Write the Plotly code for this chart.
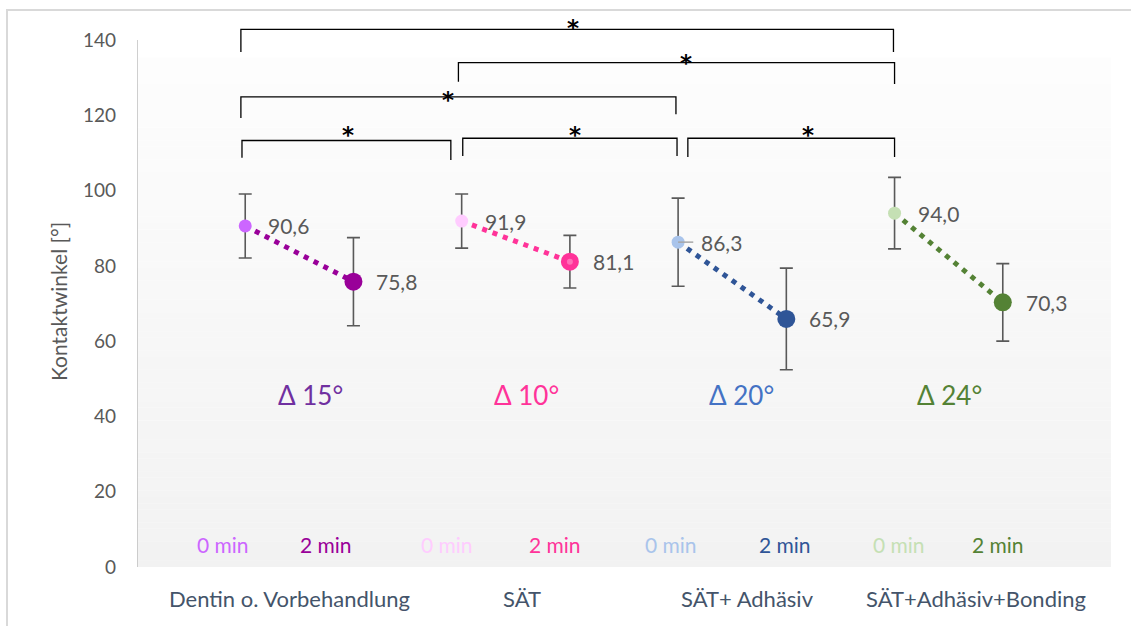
import plotly.graph_objects as go

# ---- data -----------------------------------------------------------------
groups = ["Dentin o. Vorbehandlung", "SÄT", "SÄT+ Adhäsiv", "SÄT+Adhäsiv+Bonding"]
time_labels = ["0 min", "2 min"]
mean_0min = [90.6, 91.9, 86.3, 94.0]
mean_2min = [75.8, 81.1, 65.9, 70.3]
sd_0min = [8.5, 7.2, 11.7, 9.5]
sd_2min = [11.7, 7.0, 13.5, 10.3]
delta_labels = ["Δ 15°", "Δ 10°", "Δ 20°", "Δ 24°"]

# significance comparisons between the 0-min points of two groups
comparisons = [(0, 3), (1, 3), (0, 2), (0, 1), (1, 2), (2, 3)]

# ---- styling ----------------------------------------------------------------
FONT = "Lato"
color_0min = ["#cc66ff", "#ffccff", "#a9c4eb", "#c5e0b4"]
color_2min = ["#990099", "#ff3399", "#2f5597", "#548235"]
delta_colors = ["#7030a0", "#ff3399", "#4472c4", "#548235"]
GREY_TEXT = "#595959"

# x position of each point: 0-min at 2g+1, 2-min at 2g+2
x0 = [2 * g + 1 for g in range(len(groups))]
x1 = [2 * g + 2 for g in range(len(groups))]

# layout positions (x in axis units, y in axis units)
time_label_x = [0.79, 1.75, 2.86, 3.86, 4.93, 5.99, 7.04, 7.96]
time_label_y = 6.1
group_label_x = [1.405, 3.56, 5.64, 7.755]
delta_x = [1.6, 3.6, 5.59, 7.51]
delta_y = 45.6

# bracket geometry: (x_left, x_right, y_bar, y_leg_left, y_leg_right, star_x, star_y)
bracket_geom = [
    (0.96, 6.99, 142.8, 136.8, 136.8, 4.03, 144.0),
    (2.97, 7.00, 134.0, 128.9, 128.3, 5.07, 134.7),
    (0.96, 4.98, 124.9, 119.3, 120.3, 2.87, 124.9),
    (0.97, 2.90, 113.3, 108.7, 108.1, 1.95, 115.6),
    (3.01, 4.99, 113.9, 109.2, 109.2, 4.05, 115.6),
    (5.09, 7.00, 113.9, 108.9, 108.9, 6.20, 115.6),
]

Y_TOP = 140 * 550 / 527  # keeps the 140 tick at the top of the axis line

fig = go.Figure()

# plot-area background: vertical gradient from near white to light grey
shapes = []
n_bands = 80
bg_top = 135.3
for i in range(n_bands):
    t = i / (n_bands - 1)
    c = round(242 + (253 - 242) * t)
    shapes.append(dict(
        type="rect", xref="x", yref="y", layer="below",
        x0=0, x1=9, y0=bg_top * i / n_bands, y1=bg_top * (i + 1) / n_bands + 0.05,
        fillcolor=f"rgb({c},{c},{c})", line=dict(width=0),
    ))

# y axis line
shapes.append(dict(type="line", xref="x", yref="y", x0=0, x1=0, y0=0, y1=140,
                   line=dict(color="#bfbfbf", width=1.5)))

# outer chart border
shapes.append(dict(type="rect", xref="paper", yref="paper",
                   x0=(7 - 137) / 974, x1=(1140 - 137) / 974,
                   y0=(567 - 640) / 550, y1=(567 - 10) / 550,
                   line=dict(color="#d9d9d9", width=2), fillcolor="rgba(0,0,0,0)",
                   layer="below"))

# significance brackets
for (xl, xr, yb, yll, ylr, sx, sy) in bracket_geom:
    shapes.append(dict(
        type="path", xref="x", yref="y",
        path=f"M {xl},{yll} L {xl},{yb} L {xr},{yb} L {xr},{ylr}",
        line=dict(color="black", width=1.3),
    ))

# leader line of the 86,3 label
shapes.append(dict(type="line", xref="x", yref="y", x0=x0[2], x1=x0[2] + 0.14,
                   y0=mean_0min[2], y1=mean_0min[2],
                   line=dict(color="#a6a6a6", width=1.5)))

# series: one dotted line from 0 min to 2 min per group
for g in range(len(groups)):
    is_ring = g == 1
    fig.add_trace(go.Scatter(
        x=[x0[g], x1[g]],
        y=[mean_0min[g], mean_2min[g]],
        mode="lines+markers",
        line=dict(color=color_2min[g], width=5, dash="5px,6px"),
        marker=dict(
            color=[color_0min[g], "#ff70b8" if is_ring else color_2min[g]],
            size=[13, 12 if is_ring else 18],
            opacity=1,
            line=dict(color=[color_0min[g], color_2min[g]], width=[0, 6 if is_ring else 0]),
        ),
        error_y=dict(type="data", array=[sd_0min[g], sd_2min[g]], symmetric=True,
                     color=GREY_TEXT, thickness=1.6, width=6.5),
        showlegend=False,
        hoverinfo="skip",
    ))

annotations = []

def fmt(v):
    return f"{v:.1f}".replace(".", ",")

# value labels
for g in range(len(groups)):
    for xv, yv in ((x0[g], mean_0min[g]), (x1[g], mean_2min[g])):
        annotations.append(dict(
            x=xv, y=yv, xref="x", yref="y", text=fmt(yv), showarrow=False,
            xanchor="left", yanchor="middle", xshift=21,
            font=dict(family=FONT, size=21, color=GREY_TEXT),
        ))

# delta labels
for g in range(len(groups)):
    annotations.append(dict(
        x=delta_x[g], y=delta_y, xref="x", yref="y", text=delta_labels[g],
        showarrow=False, xanchor="center", yanchor="middle",
        font=dict(family=FONT, size=26, color=delta_colors[g]),
    ))

# time labels inside the plot area
time_colors = []
for g in range(len(groups)):
    time_colors += [color_0min[g], color_2min[g]]
for i, xv in enumerate(time_label_x):
    annotations.append(dict(
        x=xv, y=time_label_y, xref="x", yref="y", text=time_labels[i % 2],
        showarrow=False, xanchor="center", yanchor="middle",
        font=dict(family=FONT, size=21, color=time_colors[i]),
    ))

# group labels under the plot area
for g, name in enumerate(groups):
    annotations.append(dict(
        x=group_label_x[g], y=(567 - 598) / 550, xref="x", yref="paper", text=name,
        showarrow=False, xanchor="center", yanchor="middle",
        font=dict(family=FONT, size=22, color="#44546a"),
    ))

# significance stars
for (xl, xr, yb, yll, ylr, sx, sy) in bracket_geom:
    annotations.append(dict(
        x=sx, y=sy, xref="x", yref="y", text="<b>*</b>", showarrow=False,
        xanchor="center", yanchor="middle", yshift=-3,
        font=dict(family="DejaVu Sans", size=23, color="black"),
    ))

# y axis title
annotations.append(dict(
    x=(58 - 137) / 974, y=(567 - 302) / 550, xref="paper", yref="paper",
    text="Kontaktwinkel [°]", textangle=-90, showarrow=False,
    xanchor="center", yanchor="middle",
    font=dict(family=FONT, size=21, color=GREY_TEXT),
))

fig.update_layout(
    width=1131, height=626,
    margin=dict(l=137, r=20, t=17, b=59),
    paper_bgcolor="white", plot_bgcolor="rgba(0,0,0,0)",
    shapes=shapes, annotations=annotations,
    xaxis=dict(range=[0, 9], showgrid=False, zeroline=False, showline=False,
               showticklabels=False, ticks=""),
    yaxis=dict(range=[0, Y_TOP], showgrid=False, zeroline=False, showline=False,
               tickvals=list(range(0, 141, 20)), ticks="", ticklabelstandoff=20,
               tickfont=dict(family=FONT, size=19, color=GREY_TEXT)),
    font=dict(family=FONT),
)

fig.write_html("out.html")
